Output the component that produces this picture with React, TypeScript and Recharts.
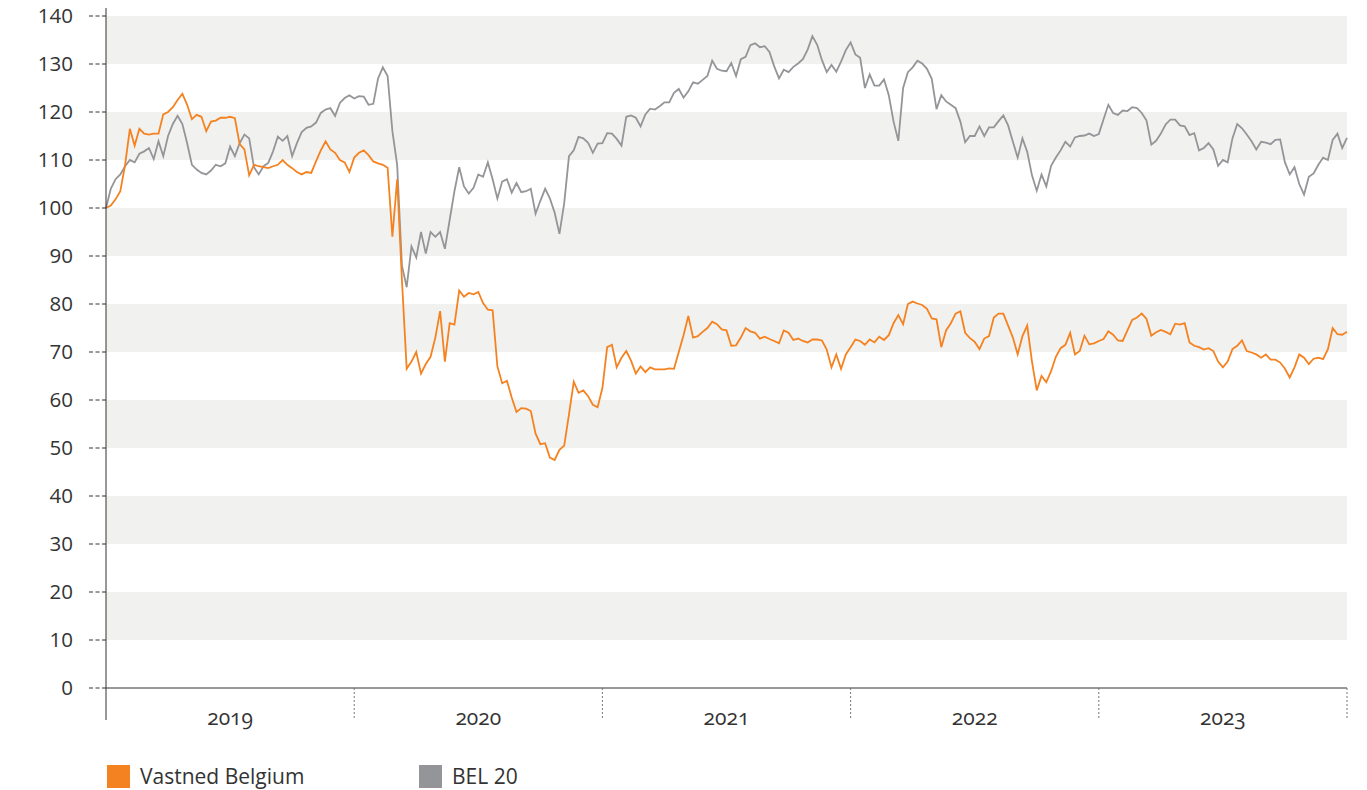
import React from 'react';
import { LineChart, Line, XAxis, YAxis, ReferenceArea } from 'recharts';

// weekly index values, start of 2019 = 100
const YEARS = ['2019', '2020', '2021', '2022', '2023'];
const WEEKS_PER_YEAR = 52;
const Y_TICKS = [0, 10, 20, 30, 40, 50, 60, 70, 80, 90, 100, 110, 120, 130, 140];
const BANDS = [[10, 20], [30, 40], [50, 60], [70, 80], [90, 100], [110, 120], [130, 140]];

const vastned2019 = [
  100, 100.5, 101.8, 103.5, 109, 116.5, 113, 116.5, 115.5, 115.3,
  115.5, 115.5, 119.5, 120, 121, 122.5, 123.8, 121.5, 118.5, 119.4,
  119, 116, 118, 118.2, 118.8, 118.8, 119, 118.7, 113.3, 112.2,
  106.8, 109, 108.7, 108.5, 108.3, 108.7, 109, 110, 109, 108.3,
  107.5, 107, 107.5, 107.3, 109.7, 112, 113.9, 112.2, 111.5, 110,
  109.5, 107.5,
];
const vastned2020 = [
  110.5, 111.5, 112, 111, 109.7, 109.3, 109, 108.4, 94, 106,
  85, 66.5, 68, 70, 65.5, 67.5, 69, 73, 78.5, 68,
  76, 75.7, 82.8, 81.5, 82.3, 82, 82.5, 80.2, 78.8, 78.7,
  67, 63.5, 64, 60.5, 57.5, 58.3, 58.2, 57.7, 53, 50.8,
  51, 48, 47.5, 49.6, 50.5, 57, 63.8, 61.5, 62, 60.8,
  59, 58.5,
];
const vastned2021 = [
  62.5, 71, 71.5, 66.8, 68.8, 70.2, 68.2, 65.5, 67, 65.8,
  66.8, 66.4, 66.4, 66.4, 66.6, 66.5, 70, 73.5, 77.5, 73,
  73.3, 74.2, 75, 76.3, 75.8, 74.7, 74.5, 71.3, 71.4, 73,
  75, 74.3, 74, 72.8, 73.2, 72.7, 72.3, 71.8, 74.5, 74,
  72.5, 72.8, 72.3, 72, 72.6, 72.6, 72.4, 70.5, 66.8, 69.5,
  66.5, 69.5,
];
const vastned2022 = [
  71, 72.6, 72.3, 71.5, 72.6, 72, 73.2, 72.5, 73.5, 76,
  77.7, 75.8, 80, 80.5, 80.1, 79.8, 79, 77, 76.8, 71,
  74.5, 76, 78, 78.5, 74, 72.9, 72.1, 70.6, 72.8, 73.3,
  77.2, 78, 78, 75.5, 73, 69.5, 73.3, 75.5, 68, 62,
  65, 63.7, 66, 69, 70.8, 71.5, 74, 69.5, 70.2, 73.4,
  71.6, 71.8,
];
const vastned2023 = [
  72.3, 72.7, 74.3, 73.6, 72.4, 72.3, 74.5, 76.7, 77.2, 78,
  76.9, 73.4, 74.1, 74.6, 74.2, 73.7, 75.9, 75.7, 76, 72,
  71.3, 71, 70.5, 70.8, 70.2, 68, 66.8, 68, 70.6, 71.3,
  72.4, 70.2, 69.9, 69.5, 68.8, 69.5, 68.4, 68.4, 67.8, 66.5,
  64.7, 66.8, 69.5, 68.8, 67.5, 68.6, 68.8, 68.5, 70.6, 75,
  73.7, 73.6, 74.2,
];

const bel2019 = [
  100, 104, 106, 107, 108.7, 110, 109.5, 111.3, 111.8, 112.5,
  110.2, 113.9, 110.8, 115, 117.5, 119.2, 117.5, 113.5, 109, 108,
  107.3, 107, 107.8, 109, 108.7, 109.3, 112.8, 110.8, 113.5, 115.3,
  114.5, 108.5, 107, 108.7, 109.4, 111.8, 114.9, 114, 115, 110.8,
  113.5, 115.8, 116.7, 117, 117.8, 119.8, 120.5, 120.8, 119.2, 121.9,
  122.9, 123.5,
];
const bel2020 = [
  122.8, 123.3, 123.2, 121.5, 121.7, 127, 129.3, 127.5, 116, 109,
  88, 83.5, 92, 89.7, 95, 90.5, 95, 94, 95, 91.5,
  97.5, 103.5, 108.5, 104.5, 103, 104.2, 107, 106.5, 109.5, 106,
  102, 105.5, 106, 103.2, 105.2, 103.3, 103.5, 104, 98.8, 101.5,
  104, 102, 99, 94.6, 101, 110.8, 112, 114.8, 114.5, 113.6,
  111.5, 113.4,
];
const bel2021 = [
  113.5, 115.6, 115.5, 114.4, 113, 119, 119.3, 118.8, 117, 119.5,
  120.7, 120.5, 121.2, 122, 122, 124, 124.8, 123, 124.3, 126.2,
  125.9, 126.7, 127.5, 130.7, 129, 128.6, 128.5, 130.2, 127.5, 131,
  131.5, 133.9, 134.3, 133.5, 133.7, 132.5, 129.5, 127, 128.8, 128.3,
  129.4, 130.1, 131, 133, 135.8, 134, 130.8, 128.3, 129.8, 128.4,
  130.5, 132.9,
];
const bel2022 = [
  134.5, 132, 131.3, 125, 127.8, 125.5, 125.5, 126.8, 123.5, 118,
  114, 125, 128.3, 129.3, 130.7, 130.1, 129, 126.9, 120.6, 123.5,
  122.2, 121.5, 120.8, 118, 113.7, 115, 115, 117, 115, 116.8,
  116.8, 118.1, 119.3, 117.2, 113.8, 110.5, 114.5, 111.7, 106.8, 103.6,
  107, 104.5, 108.8, 110.5, 112, 113.8, 112.8, 114.7, 115, 115.1,
  115.5, 115,
];
const bel2023 = [
  115.4, 118.5, 121.5, 119.8, 119.4, 120.3, 120.2, 121, 120.8, 119.8,
  118.2, 113.2, 114, 115.5, 117.4, 118.4, 118.4, 117.2, 117, 115.2,
  115.6, 112, 112.5, 113.5, 112.2, 108.8, 110, 109.5, 114.5, 117.5,
  116.6, 115.3, 113.9, 112.2, 113.8, 113.6, 113.3, 114.2, 114.3, 109.5,
  107, 108.5, 105, 102.8, 106.5, 107.2, 109, 110.5, 110, 114.2,
  115.5, 112.5, 114.6,
];

const vastned = [...vastned2019, ...vastned2020, ...vastned2021, ...vastned2022, ...vastned2023];
const bel20 = [...bel2019, ...bel2020, ...bel2021, ...bel2022, ...bel2023];
const data = vastned.map((v, i) => ({ t: i, vastned: v, bel20: bel20[i] }));

const TOTAL_WEEKS = WEEKS_PER_YEAR * YEARS.length;
const yearTicks = YEARS.map((_, i) => i * WEEKS_PER_YEAR).concat(TOTAL_WEEKS);

const W = 1367;
const H = 730;
const MARGIN = { top: 8, right: 20, bottom: 2, left: 46 };
const Y_AXIS_W = 60;
const PLOT_W = W - MARGIN.left - MARGIN.right - Y_AXIS_W;
const YEAR_PX = PLOT_W / YEARS.length;

const ORANGE = '#f58220';
const GREY = '#949598';
const FONT = '"Open Sans", sans-serif';
const TEXT = '#333333';

function YearTick(props: any) {
  const { x, y, payload } = props;
  const idx = Math.round(payload.value / WEEKS_PER_YEAR);
  const label = YEARS[idx];
  return (
    <g>
      <line
        x1={x}
        x2={x}
        y1={y}
        y2={y + 32}
        stroke={idx === 0 ? '#333' : '#777'}
        strokeWidth={1}
        strokeDasharray={idx === 0 ? undefined : '2 2'}
      />
      {label && (
        <text
          x={x + YEAR_PX / 2}
          y={y + 37}
          textAnchor="middle"
          fill={TEXT}
          fontSize={21}
          fontFamily={FONT}
          style={{ fontVariantNumeric: 'oldstyle-nums' }}
        >
          {label}
        </text>
      )}
    </g>
  );
}

function LegendItem({ color, label, width }: { color: string; label: string; width: number }) {
  return (
    <div style={{ display: 'flex', alignItems: 'center', width }}>
      <div style={{ width: 23, height: 23, background: color, marginRight: 10 }} />
      <span style={{ fontSize: 21, color: TEXT, fontFamily: FONT }}>{label}</span>
    </div>
  );
}

export default function App() {
  return (
    <div style={{ position: 'absolute', left: 0, top: 0, width: W, height: 790, background: '#fff' }}>
      <LineChart width={W} height={H} data={data} margin={MARGIN}>
        {BANDS.map(([a, b]) => (
          <ReferenceArea key={a} y1={a} y2={b} fill="#f1f1ef" fillOpacity={1} stroke="none" />
        ))}
        <XAxis
          dataKey="t"
          type="number"
          domain={[0, TOTAL_WEEKS]}
          ticks={yearTicks}
          tickLine={false}
          tickSize={0}
          tickMargin={0}
          height={40}
          interval={0}
          axisLine={{ stroke: '#333', strokeWidth: 1 }}
          tick={<YearTick />}
        />
        <YAxis
          type="number"
          domain={[0, 140 + 8 / 4.8]}
          ticks={Y_TICKS}
          interval={0}
          width={Y_AXIS_W}
          tickSize={17}
          tickMargin={16}
          axisLine={{ stroke: '#333', strokeWidth: 1 }}
          tickLine={{ stroke: '#333', strokeDasharray: '4 2.5' }}
          tick={{ fill: TEXT, fontSize: 20.5, fontFamily: FONT }}
        />
        <Line
          dataKey="bel20"
          type="linear"
          stroke={GREY}
          strokeWidth={1.8}
          dot={false}
          isAnimationActive={false}
        />
        <Line
          dataKey="vastned"
          type="linear"
          stroke={ORANGE}
          strokeWidth={1.8}
          dot={false}
          isAnimationActive={false}
        />
      </LineChart>
      <div style={{ position: 'absolute', left: 107, top: 762, display: 'flex' }}>
        <LegendItem color={ORANGE} label="Vastned Belgium" width={312} />
        <LegendItem color={GREY} label="BEL 20" width={150} />
      </div>
    </div>
  );
}
